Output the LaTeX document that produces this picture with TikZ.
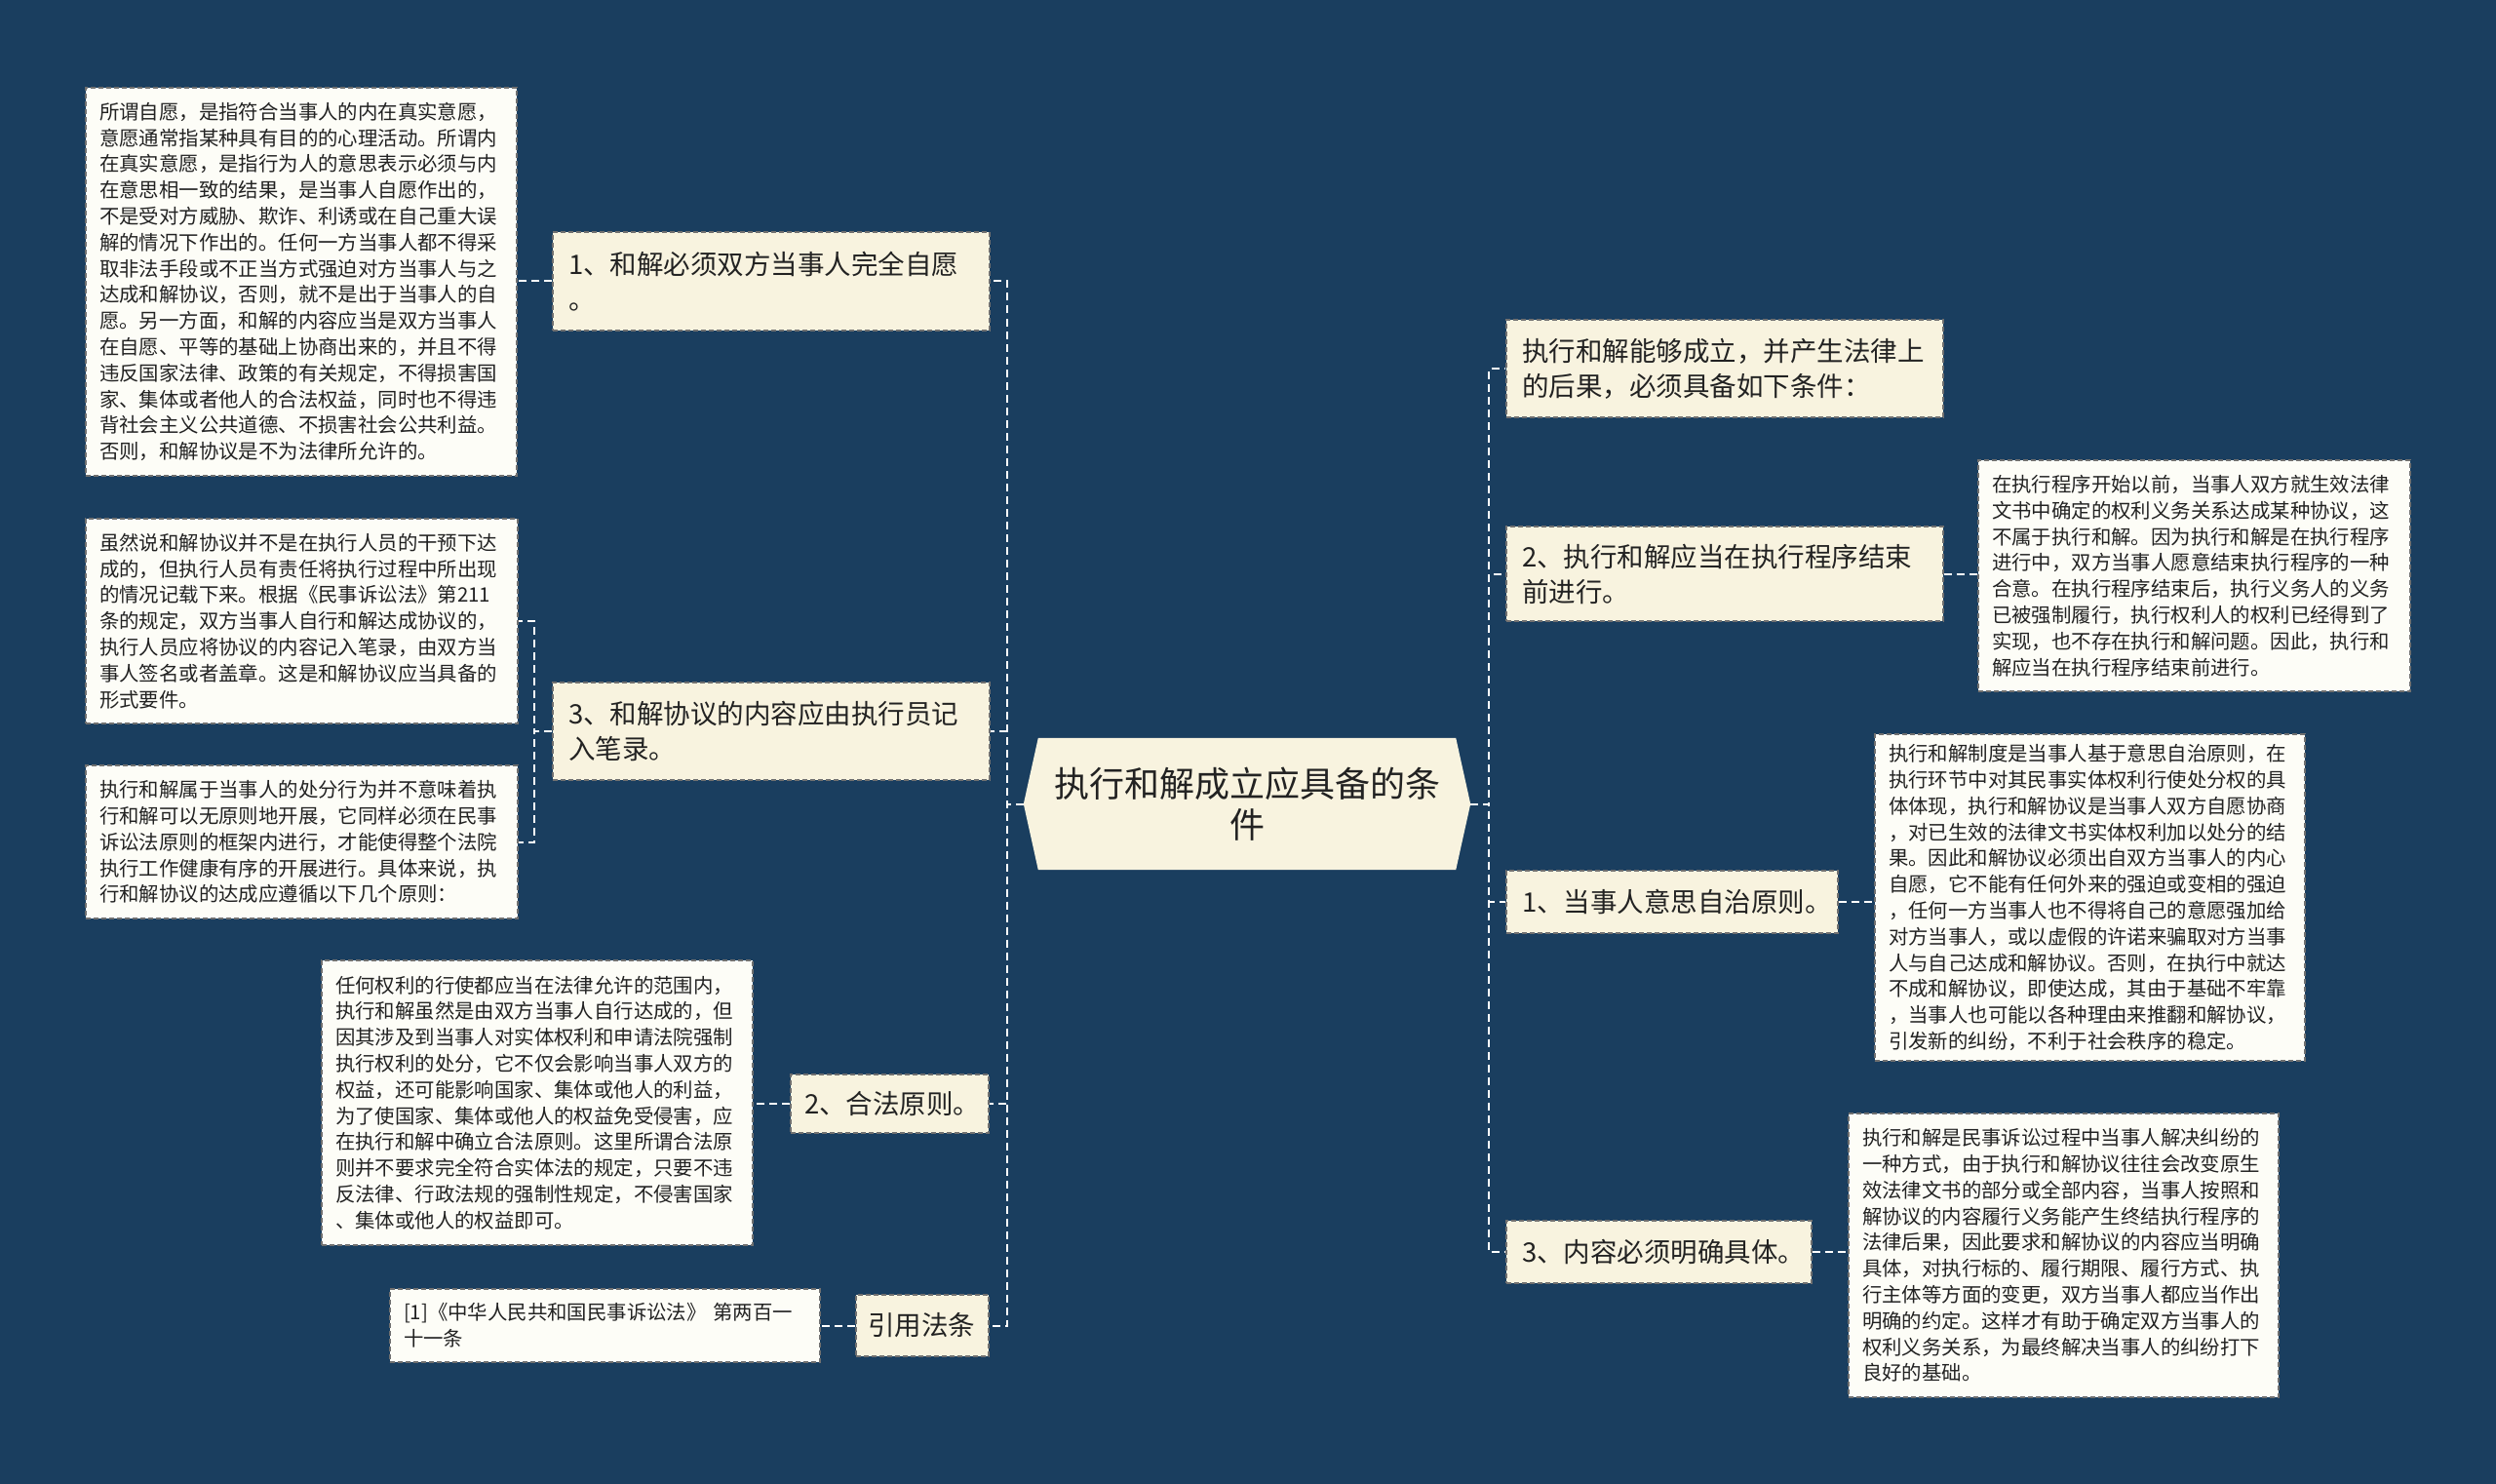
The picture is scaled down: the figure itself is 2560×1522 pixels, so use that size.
\documentclass[tikz,border=0pt]{standalone}
\usepackage{fontspec}
\setmainfont{Noto Sans CJK SC}
\usetikzlibrary{backgrounds}
\definecolor{navy}{HTML}{1A3E5F}
\definecolor{cream}{HTML}{F8F3DF}
\definecolor{leaffill}{HTML}{FDFDF7}
\definecolor{edgegray}{HTML}{707070}
\definecolor{ink}{HTML}{222222}
\begin{document}
\begin{tikzpicture}[x=1pt,y=-1pt,
  box/.style={rectangle, draw=edgegray, line width=1.2pt, dash pattern=on 5pt off 3pt, text=ink, align=left, anchor=center, inner ysep=0pt},
  leaf/.style={box, fill=leaffill, inner xsep=14pt, font=\fontsize{20.4}{26.8}\selectfont},
  branch/.style={box, fill=cream, inner xsep=16pt, font=\fontsize{27.5}{36}\selectfont},
  link/.style={draw=white, line width=2pt, dash pattern=on 8pt off 5pt}]
\useasboundingbox (0,0) rectangle (2560,1522);

% central node
\node[align=center, text=ink, inner sep=0pt, minimum width=458pt, minimum height=135pt, text width=420pt,
  font=\fontsize{36}{42}\selectfont] (C) at (1279,824.5) {执行和解成立应具备的条\\件};

% left branches
\node[branch, minimum width=448pt, minimum height=101pt, text width=416pt] (B1) at (791,288.5)
  {1、和解必须双方当事人完全自愿\\。};
\node[branch, minimum width=448pt, minimum height=100pt, text width=416pt] (B3) at (791,750)
  {3、和解协议的内容应由执行员记\\入笔录。};
\node[branch, minimum width=203pt, minimum height=60pt, text width=175pt, inner xsep=14pt] (B2) at (912.5,1132)
  {2、合法原则。};
\node[branch, minimum width=136pt, minimum height=63pt, text width=112pt, inner xsep=12pt] (B4) at (946,1359.5)
  {引用法条};

% left leaves
\node[leaf, minimum width=442pt, minimum height=398pt, text width=414pt] (L1) at (309,289)
  {所谓自愿，是指符合当事人的内在真实意愿，\\
意愿通常指某种具有目的的心理活动。所谓内\\
在真实意愿，是指行为人的意思表示必须与内\\
在意思相一致的结果，是当事人自愿作出的，\\
不是受对方威胁、欺诈、利诱或在自己重大误\\
解的情况下作出的。任何一方当事人都不得采\\
取非法手段或不正当方式强迫对方当事人与之\\
达成和解协议，否则，就不是出于当事人的自\\
愿。另一方面，和解的内容应当是双方当事人\\
在自愿、平等的基础上协商出来的，并且不得\\
违反国家法律、政策的有关规定，不得损害国\\
家、集体或者他人的合法权益，同时也不得违\\
背社会主义公共道德、不损害社会公共利益。\\
否则，和解协议是不为法律所允许的。};
\node[leaf, minimum width=443pt, minimum height=210pt, text width=415pt] (L2) at (309.5,637)
  {虽然说和解协议并不是在执行人员的干预下达\\
成的，但执行人员有责任将执行过程中所出现\\
的情况记载下来。根据《民事诉讼法》第211\\
条的规定，双方当事人自行和解达成协议的，\\
执行人员应将协议的内容记入笔录，由双方当\\
事人签名或者盖章。这是和解协议应当具备的\\
形式要件。};
\node[leaf, minimum width=443pt, minimum height=157pt, text width=415pt] (L3) at (309.5,863.5)
  {执行和解属于当事人的处分行为并不意味着执\\
行和解可以无原则地开展，它同样必须在民事\\
诉讼法原则的框架内进行，才能使得整个法院\\
执行工作健康有序的开展进行。具体来说，执\\
行和解协议的达成应遵循以下几个原则：};
\node[leaf, minimum width=442pt, minimum height=292pt, text width=414pt] (L4) at (551,1131)
  {任何权利的行使都应当在法律允许的范围内，\\
执行和解虽然是由双方当事人自行达成的，但\\
因其涉及到当事人对实体权利和申请法院强制\\
执行权利的处分，它不仅会影响当事人双方的\\
权益，还可能影响国家、集体或他人的利益，\\
为了使国家、集体或他人的权益免受侵害，应\\
在执行和解中确立合法原则。这里所谓合法原\\
则并不要求完全符合实体法的规定，只要不违\\
反法律、行政法规的强制性规定，不侵害国家\\
、集体或他人的权益即可。};
\node[leaf, minimum width=441pt, minimum height=75pt, text width=413pt] (L5) at (620.5,1359.5)
  {[1]《中华人民共和国民事诉讼法》 第两百一\\十一条};

% right branches
\node[branch, minimum width=448pt, minimum height=100pt, text width=416pt] (R0) at (1769,378)
  {执行和解能够成立，并产生法律上\\的后果，必须具备如下条件：};
\node[branch, minimum width=448pt, minimum height=97pt, text width=416pt] (R2) at (1769,588.5)
  {2、执行和解应当在执行程序结束\\前进行。};
\node[branch, minimum width=340pt, minimum height=64pt, text width=308pt] (R1) at (1715,925)
  {1、当事人意思自治原则。};
\node[branch, minimum width=313pt, minimum height=64pt, text width=281pt] (R3) at (1701.5,1284)
  {3、内容必须明确具体。};

% right leaves
\node[leaf, minimum width=443pt, minimum height=237pt, text width=415pt] (R2L) at (2250.5,590.5)
  {在执行程序开始以前，当事人双方就生效法律\\
文书中确定的权利义务关系达成某种协议，这\\
不属于执行和解。因为执行和解是在执行程序\\
进行中，双方当事人愿意结束执行程序的一种\\
合意。在执行程序结束后，执行义务人的义务\\
已被强制履行，执行权利人的权利已经得到了\\
实现，也不存在执行和解问题。因此，执行和\\
解应当在执行程序结束前进行。};
\node[leaf, minimum width=441pt, minimum height=335pt, text width=413pt] (R1L) at (2143.5,920.5)
  {执行和解制度是当事人基于意思自治原则，在\\
执行环节中对其民事实体权利行使处分权的具\\
体体现，执行和解协议是当事人双方自愿协商\\
，对已生效的法律文书实体权利加以处分的结\\
果。因此和解协议必须出自双方当事人的内心\\
自愿，它不能有任何外来的强迫或变相的强迫\\
，任何一方当事人也不得将自己的意愿强加给\\
对方当事人，或以虚假的许诺来骗取对方当事\\
人与自己达成和解协议。否则，在执行中就达\\
不成和解协议，即使达成，其由于基础不牢靠\\
，当事人也可能以各种理由来推翻和解协议，\\
引发新的纠纷，不利于社会秩序的稳定。};
\node[leaf, minimum width=441pt, minimum height=291pt, text width=413pt] (R3L) at (2116.5,1287.5)
  {执行和解是民事诉讼过程中当事人解决纠纷的\\
一种方式，由于执行和解协议往往会改变原生\\
效法律文书的部分或全部内容，当事人按照和\\
解协议的内容履行义务能产生终结执行程序的\\
法律后果，因此要求和解协议的内容应当明确\\
具体，对执行标的、履行期限、履行方式、执\\
行主体等方面的变更，双方当事人都应当作出\\
明确的约定。这样才有助于确定双方当事人的\\
权利义务关系，为最终解决当事人的纠纷打下\\
良好的基础。};

% background and central hexagon
\begin{scope}[on background layer]
  \fill[navy] (0,0) rectangle (2560,1522);
  \fill[cream] ([xshift=15pt]C.north west) -- (C.west) -- ([xshift=15pt]C.south west)
    -- ([xshift=-15pt]C.south east) -- (C.east) -- ([xshift=-15pt]C.north east) -- cycle;
\end{scope}

% connectors: centre to left branches
\foreach \b in {B1,B3,B2,B4} {
  \draw[link] (C.west) -- ++(-17,0) |- (\b.east);
}
% centre to right branches
\foreach \b in {R0,R2,R1,R3} {
  \draw[link] (C.east) -- ++(19,0) |- (\b.west);
}
% branch to leaves
\draw[link] (B1.west) -- (B1.west -| L1.east);
\draw[link] (B3.west) -- ++(-18,0) |- (L2.east);
\draw[link] (B3.west) -- ++(-18,0) |- (L3.east);
\draw[link] (B2.west) -- (B2.west -| L4.east);
\draw[link] (B4.west) -- (B4.west -| L5.east);
\draw[link] (R2.east) -- (R2.east -| R2L.west);
\draw[link] (R1.east) -- (R1.east -| R1L.west);
\draw[link] (R3.east) -- (R3.east -| R3L.west);
\end{tikzpicture}
\end{document}
